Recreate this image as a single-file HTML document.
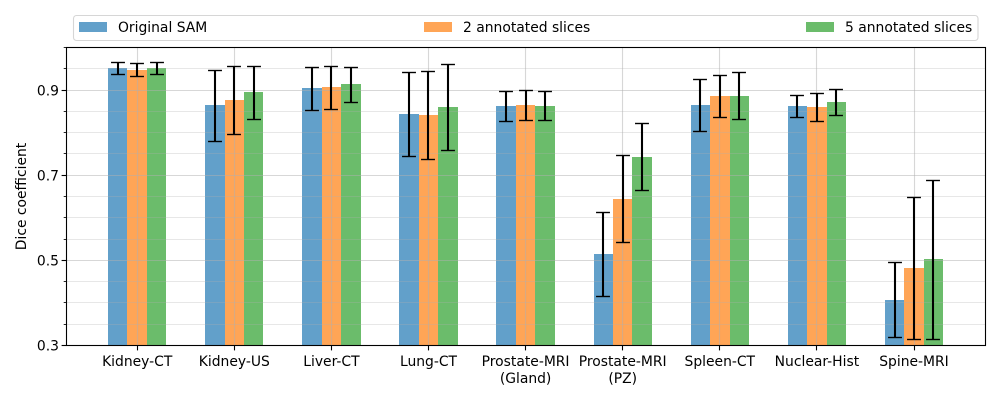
<!DOCTYPE html>
<html lang="en">
<head>
<meta charset="utf-8">
<title>Dice coefficient chart</title>
<style>
html,body{margin:0;padding:0;background:#fff;width:1000px;height:400px;overflow:hidden}
svg{display:block}
text{font-family:"DejaVu Sans","Liberation Sans",sans-serif;font-size:13.89px;fill:#000}
</style>
</head>
<body>
<svg id="chart" xmlns="http://www.w3.org/2000/svg" width="1000" height="400" viewBox="0 0 1000 400">
  <rect x="0" y="0" width="1000" height="400" fill="#fff"/>
  <g id="plot"></g>
  <text transform="translate(26,196.5) rotate(-90)" text-anchor="middle">Dice coefficient</text>
  <g>
    <rect x="73.5" y="15.5" width="904.5" height="25" rx="3" fill="#fff" stroke="#d6d6d6" stroke-width="1.1"/>
    <g>
      <rect x="79" y="22" width="28" height="10" fill="#1f77b4" fill-opacity="0.7"/>
      <text x="118" y="32">Original SAM</text>
    </g>
    <g>
      <rect x="424" y="22" width="28" height="10" fill="#ff7f0e" fill-opacity="0.7"/>
      <text x="463" y="32">2 annotated slices</text>
    </g>
    <g>
      <rect x="806" y="22" width="28" height="10" fill="#2ca02c" fill-opacity="0.7"/>
      <text x="845" y="32">5 annotated slices</text>
    </g>
  </g>
</svg>
<script>
const categories = ["Kidney-CT", "Kidney-US", "Liver-CT", "Lung-CT", "Prostate-MRI\n(Gland)", "Prostate-MRI\n(PZ)", "Spleen-CT", "Nuclear-Hist", "Spine-MRI"];
const originalSam = [0.951, 0.865, 0.905, 0.843, 0.862, 0.515, 0.865, 0.862, 0.407];
const originalSamHigh = [0.965, 0.946, 0.953, 0.942, 0.897, 0.613, 0.925, 0.8875, 0.495];
const originalSamLow = [0.937, 0.779, 0.852, 0.745, 0.826, 0.4155, 0.803, 0.836, 0.319];
const twoSlices = [0.947, 0.876, 0.907, 0.841, 0.865, 0.644, 0.886, 0.860, 0.482];
const twoSlicesHigh = [0.9626, 0.9555, 0.9555, 0.944, 0.899, 0.7466, 0.9344, 0.892, 0.648];
const twoSlicesLow = [0.931, 0.796, 0.8546, 0.736, 0.829, 0.542, 0.836, 0.8264, 0.3146];
const fiveSlices = [0.951, 0.895, 0.914, 0.860, 0.862, 0.7426, 0.886, 0.872, 0.503];
const fiveSlicesHigh = [0.965, 0.9555, 0.953, 0.959, 0.897, 0.822, 0.9415, 0.9015, 0.688];
const fiveSlicesLow = [0.937, 0.831, 0.871, 0.759, 0.829, 0.664, 0.831, 0.8405, 0.3146];
const yMajorTicks = [0.3, 0.5, 0.7, 0.9];
const yMinorTicks = [0.35, 0.4, 0.45, 0.55, 0.6, 0.65, 0.75, 0.8, 0.85, 0.95, 1.0];

const plot = document.getElementById('plot');
const NS = 'http://www.w3.org/2000/svg';
const left = 66.5, right = 985.5, top_ = 47.5, bottom = 345.5;
const yMin = 0.3, yMax = 1.0;
const firstX = 137.2, stepX = 97.1, barW = 19.42, capHalf = 6.95;

function yScale(v) { return bottom - (v - yMin) / (yMax - yMin) * (bottom - top_); }
function xScale(i) { return firstX + i * stepX; }
function make(tag, attrs) {
  const node = document.createElementNS(NS, tag);
  for (const k in attrs) node.setAttribute(k, attrs[k]);
  plot.appendChild(node);
  return node;
}
function slug(s) { return s.toLowerCase().replace(/[^a-z0-9]+/g, '-').replace(/-$/, ''); }
function half(v) { return Math.round(v - 0.5) + 0.5; }

const seriesNames = ['original-sam', '2-annotated-slices', '5-annotated-slices'];
const seriesColors = ['#1f77b4', '#ff7f0e', '#2ca02c'];
const seriesValues = [originalSam, twoSlices, fiveSlices];
const seriesHigh = [originalSamHigh, twoSlicesHigh, fiveSlicesHigh];
const seriesLow = [originalSamLow, twoSlicesLow, fiveSlicesLow];

// Bars sit beneath the grid; edges snap to whole pixels
seriesValues.forEach(function (vals, s) {
  vals.forEach(function (v, i) {
    const cx = xScale(i) + (s - 1) * barW;
    const x0 = Math.round(cx - barW / 2);
    const x1 = Math.round(cx + barW / 2);
    const yTop = Math.round(yScale(v));
    const el = make('rect', {x: x0, y: yTop, width: x1 - x0, height: Math.round(bottom) - yTop, fill: seriesColors[s], 'fill-opacity': 0.7});
    
    
  });
});

// Grid
yMinorTicks.forEach(function (t) {
  const y = half(yScale(t));
  const el = make('line', {x1: left, x2: right, y1: y, y2: y, stroke: '#b0b0b0', 'stroke-opacity': 0.3, 'stroke-width': 1.1});
  
  
});
yMajorTicks.forEach(function (t) {
  const y = half(yScale(t));
  const el = make('line', {x1: left, x2: right, y1: y, y2: y, stroke: '#b0b0b0', 'stroke-opacity': 0.5, 'stroke-width': 1.1});
  
  
});
categories.forEach(function (c, i) {
  const x = half(xScale(i));
  const el = make('line', {x1: x, x2: x, y1: top_, y2: bottom, stroke: '#b0b0b0', 'stroke-opacity': 0.5, 'stroke-width': 1.1});
  
  
});

// Error bars
seriesValues.forEach(function (vals, s) {
  vals.forEach(function (v, i) {
    const cx = xScale(i) + (s - 1) * barW;
    const stemX = Math.round(cx);
    const yHi = half(yScale(seriesHigh[s][i]));
    const yLo = half(yScale(seriesLow[s][i]));
    const stem = make('line', {x1: stemX, x2: stemX, y1: yHi, y2: yLo, stroke: '#000', 'stroke-width': 2.08});
    
    
    const capTop = make('line', {x1: stemX - capHalf, x2: stemX + capHalf, y1: yHi, y2: yHi, stroke: '#000', 'stroke-width': 1.39});
    
    
    const capBottom = make('line', {x1: stemX - capHalf, x2: stemX + capHalf, y1: yLo, y2: yLo, stroke: '#000', 'stroke-width': 1.39});
    
    
  });
});

// Y ticks
yMinorTicks.forEach(function (t) {
  const y = half(yScale(t));
  const el = make('line', {x1: left - 2.8, x2: left, y1: y, y2: y, stroke: '#000', 'stroke-width': 0.85});
  
  
});
yMajorTicks.forEach(function (t) {
  const y = half(yScale(t));
  const tick = make('line', {x1: left - 4.9, x2: left, y1: y, y2: y, stroke: '#000', 'stroke-width': 1.1});
  
  
  const label = make('text', {x: 59, y: y + 5, 'text-anchor': 'end'});
  label.textContent = t.toFixed(1);
  
  
});

// X ticks and labels
categories.forEach(function (c, i) {
  const x = half(xScale(i));
  const tick = make('line', {x1: x, x2: x, y1: bottom, y2: bottom + 4.9, stroke: '#000', 'stroke-width': 1.1});
  
  
  c.split('\n').forEach(function (line, n) {
    const label = make('text', {x: xScale(i), y: 366 + n * 17, 'text-anchor': 'middle'});
    label.textContent = line;
    
    
  });
});

// Axes frame
const frame = make('rect', {x: left, y: top_, width: right - left, height: bottom - top_, fill: 'none', stroke: '#000', 'stroke-width': 1.1});


</script>
</body>
</html>
